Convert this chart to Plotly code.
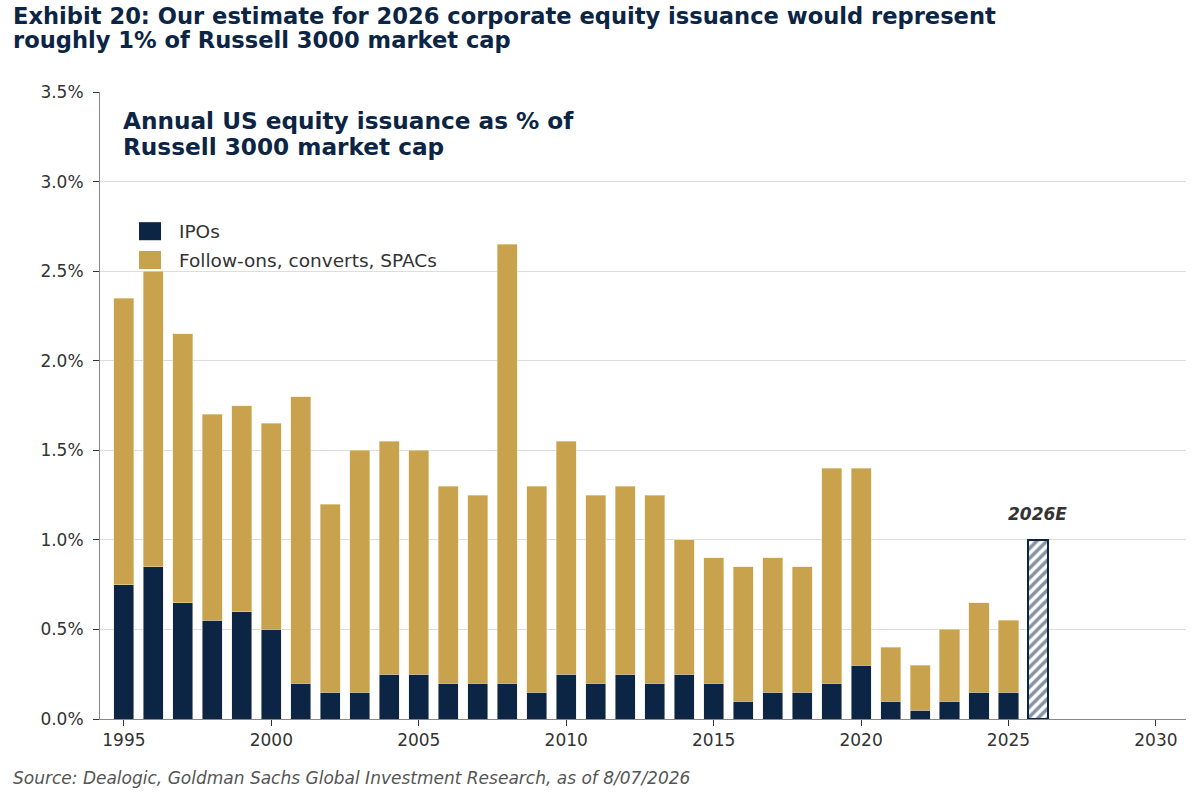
import plotly.graph_objects as go

NAVY = "#0c2545"
GOLD = "#c9a24d"

years = list(range(1995, 2026))
ipos = [0.75, 0.85, 0.65, 0.55, 0.60, 0.50, 0.20, 0.15, 0.15, 0.25, 0.25,
        0.20, 0.20, 0.20, 0.15, 0.25, 0.20, 0.25, 0.20, 0.25, 0.20, 0.10,
        0.15, 0.15, 0.20, 0.30, 0.10, 0.05, 0.10, 0.15, 0.15]
follow_ons = [1.60, 1.65, 1.50, 1.15, 1.15, 1.15, 1.60, 1.05, 1.35, 1.30, 1.25,
              1.10, 1.05, 2.45, 1.15, 1.30, 1.05, 1.05, 1.05, 0.75, 0.70, 0.75,
              0.75, 0.70, 1.20, 1.10, 0.30, 0.25, 0.40, 0.50, 0.40]
est_year = [2026]
est_value = [1.00]

y_ticks = [0.0, 0.5, 1.0, 1.5, 2.0, 2.5, 3.0, 3.5]
y_labels = ["0.0%", "0.5%", "1.0%", "1.5%", "2.0%", "2.5%", "3.0%", "3.5%"]
x_ticks = [1995, 2000, 2005, 2010, 2015, 2020, 2025, 2030]

legend_names = ["IPOs", "Follow-ons, converts, SPACs"]
legend_colors = [NAVY, GOLD]

fig = go.Figure()

fig.add_trace(go.Bar(
    x=years, y=ipos, name=legend_names[0], width=0.68, showlegend=False,
    marker=dict(color=NAVY, line=dict(width=0.5, color="#e8e4d8")),
))
fig.add_trace(go.Bar(
    x=years, y=follow_ons, name=legend_names[1], width=0.68, showlegend=False,
    marker=dict(color=GOLD, line=dict(width=0.5, color="#efe3c0")),
))
fig.add_trace(go.Bar(
    x=est_year, y=est_value, width=0.66, showlegend=False, name="2026E",
    marker=dict(
        color="white",
        line=dict(width=2, color=NAVY),
        pattern=dict(shape="/", fgcolor=NAVY, bgcolor="white", size=7, solidity=0.5),
    ),
))

fig.add_annotation(
    x=2026, y=1.08, text="<b><i>2026E</i></b>", showarrow=False,
    yanchor="bottom", font=dict(size=17, color="#333333"),
)

# legend drawn by hand so the swatches are as large as in the original
legend_y = [0.778, 0.732]
for name, color, yc in zip(legend_names, legend_colors, legend_y):
    fig.add_shape(
        type="rect", xref="paper", yref="paper",
        x0=0.0359, x1=0.0562, y0=yc - 0.0144, y1=yc + 0.0144,
        fillcolor=color, line=dict(width=0),
    )
    fig.add_annotation(
        xref="paper", yref="paper", x=0.0709, y=yc, xanchor="left", yanchor="middle",
        text=name, showarrow=False, font=dict(size=18.5, color="#333333"),
    )

# chart titles, one annotation per line to keep the tight line spacing
title_lines = [
    "Exhibit 20: Our estimate for 2026 corporate equity issuance would represent",
    "roughly 1% of Russell 3000 market cap",
]
for i, line in enumerate(title_lines):
    fig.add_annotation(
        xref="paper", yref="paper", x=-0.0815, y=(719 - 16 - 24 * i) / 627,
        xanchor="left", yanchor="middle", text=f"<b>{line}</b>",
        showarrow=False, font=dict(size=22.6, color=NAVY),
    )

inner_lines = ["Annual US equity issuance as % of", "Russell 3000 market cap"]
for i, line in enumerate(inner_lines):
    fig.add_annotation(
        xref="paper", yref="paper", x=0.0193, y=(719 - 121 - 25 * i) / 627,
        xanchor="left", yanchor="middle", text=f"<b>{line}</b>",
        showarrow=False, font=dict(size=23.2, color=NAVY),
    )

fig.add_annotation(
    xref="paper", yref="paper", x=-0.0815, y=(719 - 778) / 627,
    xanchor="left", yanchor="middle",
    text="<i>Source: Dealogic, Goldman Sachs Global Investment Research, as of 8/07/2026</i>",
    showarrow=False, align="left", font=dict(size=17, color="#555555"),
)

fig.update_layout(
    width=1202,
    height=794,
    barmode="stack",
    paper_bgcolor="white",
    plot_bgcolor="white",
    font=dict(family="DejaVu Sans", size=17, color="#333333"),
    margin=dict(l=100, r=16, t=92, b=75),
    showlegend=False,
)

fig.update_xaxes(
    range=[1994.19, 2031.02],
    tickvals=x_ticks,
    ticks="outside", ticklen=6, tickcolor="#333333",
    showline=True, linecolor="#888888", linewidth=1,
    showgrid=False, zeroline=False,
    tickfont=dict(size=17, color="#333333"),
)
fig.update_yaxes(
    range=[0, 3.5],
    tickvals=y_ticks, ticktext=y_labels,
    ticks="outside", ticklen=6, tickcolor="#333333",
    ticklabelstandoff=6,
    showline=True, linecolor="#888888", linewidth=1,
    showgrid=True, gridcolor="#dddddd", gridwidth=1,
    zeroline=False,
    tickfont=dict(size=17, color="#333333"),
)

fig.write_html(
    "out.html",
    config={"displayModeBar": False},
    post_script="document.body.style.margin='0';",
)
